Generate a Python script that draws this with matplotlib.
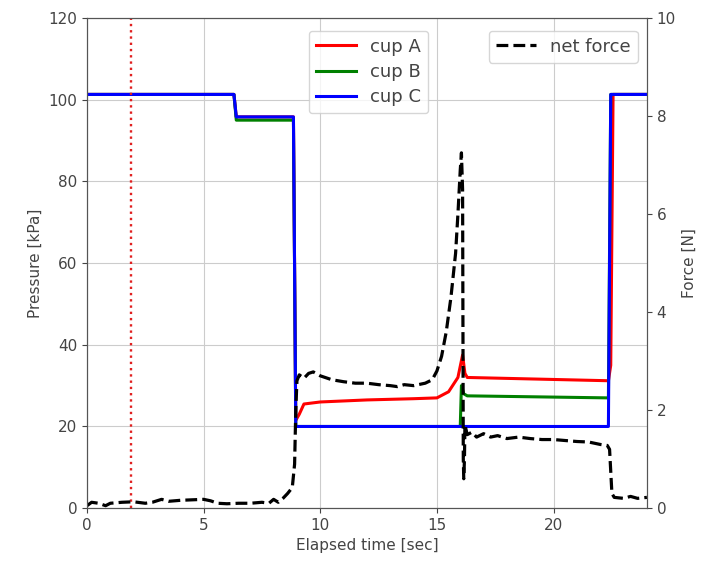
import numpy as np
import matplotlib
matplotlib.use("Agg")
import matplotlib.pyplot as plt

plt.rcParams['font.family'] = ['DejaVu Sans']
plt.rcParams['font.size'] = 11

# 吸盘压力 [kPa]
t_a = [0, 6.3, 6.4, 8.85, 8.95, 9.1, 9.3, 10, 12, 14, 15.0, 15.5, 15.9, 16.1, 16.2, 16.3, 22.35, 22.45, 22.55, 24]
p_a = [101.3, 101.3, 95.8, 95.8, 21.5, 23, 25.5, 26, 26.5, 26.8, 27, 28.5, 32, 37.5, 33, 32, 31.2, 35, 101.3, 101.3]

t_b = [0, 6.3, 6.4, 8.85, 8.95, 16.0, 16.05, 16.15, 16.3, 22.35, 22.45, 24]
p_b = [101.3, 101.3, 95.0, 95.0, 20, 20, 30, 28, 27.5, 27, 101.3, 101.3]

t_c = [0, 6.3, 6.4, 8.85, 8.95, 22.35, 22.45, 24]
p_c = [101.3, 101.3, 95.8, 95.8, 20, 20, 101.3, 101.3]

# 合力 [N]
t_f = [0.0, 0.2, 0.5, 0.8, 1.0, 1.5, 2.0, 2.5, 2.8, 3.2, 3.5, 4.0, 4.5, 5.0, 5.3, 5.6,
       6.0, 6.5, 7.0, 7.5, 7.8, 8.0, 8.2, 8.4, 8.6, 8.8, 8.9, 8.95, 9.0, 9.1, 9.3, 9.5,
       9.7, 10.0, 10.5, 11.0, 11.5, 12.0, 12.5, 13.0, 13.3, 13.6, 14.0, 14.5, 14.8, 15.0,
       15.2, 15.4, 15.6, 15.8, 15.9, 16.0, 16.05, 16.1, 16.13, 16.15, 16.18, 16.2, 16.3,
       16.5, 16.7, 17.0, 17.3, 17.6, 18.0, 18.5, 19.0, 19.5, 20.0, 20.5, 21.0, 21.5, 22.0,
       22.3, 22.4, 22.5, 22.6, 23.0, 23.3, 23.6, 24.0]
f_net = [0.05, 0.12, 0.10, 0.05, 0.10, 0.12, 0.13, 0.10, 0.12, 0.18, 0.14, 0.16, 0.17, 0.18, 0.15, 0.10,
         0.09, 0.10, 0.10, 0.12, 0.10, 0.18, 0.12, 0.20, 0.30, 0.42, 0.9, 2.0, 2.6, 2.72, 2.65, 2.75,
         2.78, 2.70, 2.62, 2.58, 2.55, 2.55, 2.52, 2.50, 2.48, 2.52, 2.50, 2.55, 2.62, 2.80,
         3.1, 3.6, 4.3, 5.2, 6.0, 6.9, 7.25, 6.5, 1.0, 0.6, 1.0, 1.7, 1.5,
         1.55, 1.45, 1.52, 1.45, 1.48, 1.42, 1.45, 1.42, 1.40, 1.40, 1.38, 1.36, 1.35, 1.30,
         1.28, 1.2, 0.3, 0.22, 0.20, 0.24, 0.20, 0.22]

t_mark = 1.9

fig = plt.figure(figsize=(7.07, 5.64), dpi=100)
ax = fig.add_axes([0.123, 0.099, 0.792, 0.869])

ax.plot(t_a, p_a, color='r', linewidth=2.2, label="cup A")
ax.plot(t_b, p_b, color='g', linewidth=2.2, label="cup B")
ax.plot(t_c, p_c, color='b', linewidth=2.2, label="cup C")
ax.axvline(t_mark, color='#e02020', linestyle=':', linewidth=1.7)

ax.set_xlim(0, 24)
ax.set_ylim(0, 120)
ax.set_xticks([0, 5, 10, 15, 20])
ax.set_yticks(np.arange(0, 121, 20))
ax.grid(True, color='#cccccc')
ax.set_xlabel("Elapsed time [sec]", color='#444444')
ax.set_ylabel("Pressure [kPa]", color='#444444')
ax.tick_params(colors='#444444')
for s in ax.spines.values():
    s.set_color('#555555')
ax.legend(loc="upper left", bbox_to_anchor=(0.38, 0.993), fontsize=13,
          handlelength=2.2, labelspacing=0.4, labelcolor='#444444')

ax2 = ax.twinx()
ax2.plot(t_f, f_net, 'k--', linewidth=2.3, label="net force")
ax2.set_ylim(0, 10)
ax2.set_ylabel("Force [N]", color='#444444')
ax2.tick_params(colors='#444444')
for s in ax2.spines.values():
    s.set_color('#555555')
ax2.legend(loc="upper right", bbox_to_anchor=(1.0, 0.993), fontsize=13,
           handlelength=2.2, labelcolor='#444444')

plt.savefig("out.png", dpi=100)
